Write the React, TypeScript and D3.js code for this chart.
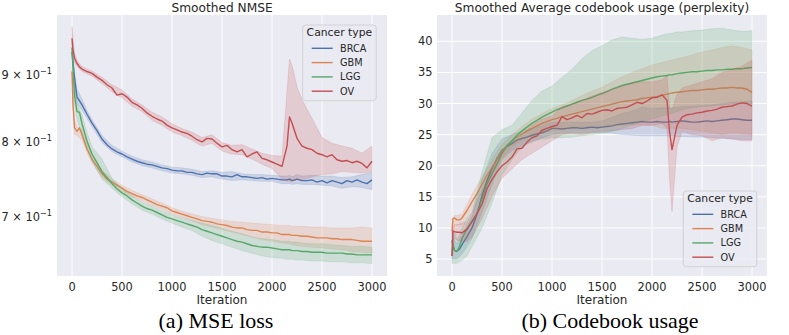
import * as d3 from 'd3'

// iteration grid for the mean lines and the (coarser) grid for the CI bands
const iters = [0, 10, 25, 50, 75, 100, 150, 200, 250, 300, 350, 400, 450, 500, 550, 600, 650, 700, 750, 800, 850, 900, 950, 1000, 1050, 1100, 1150, 1200, 1250, 1300, 1350, 1400, 1450, 1500, 1550, 1600, 1650, 1700, 1750, 1800, 1850, 1900, 1950, 2000, 2050, 2100, 2150, 2175, 2200, 2250, 2300, 2350, 2400, 2450, 2500, 2550, 2600, 2650, 2700, 2750, 2800, 2850, 2900, 2950, 3000]
const bandIters = [0, 25, 50, 100, 150, 200, 300, 400, 500, 600, 700, 800, 900, 1000, 1100, 1200, 1300, 1400, 1500, 1600, 1700, 1800, 1900, 2000, 2100, 2150, 2175, 2200, 2250, 2300, 2400, 2500, 2600, 2700, 2800, 2900, 3000]

const cancerTypes = ['BRCA', 'GBM', 'LGG', 'OV']
const colors = ['#4c72b0', '#dd8452', '#55a868', '#c44e52']
const xTicks = [0, 500, 1000, 1500, 2000, 2500, 3000]
const nmseTicks = [0.7, 0.8, 0.9]
const perplexityTicks = [5, 10, 15, 20, 25, 30, 35, 40]

// (a) smoothed NMSE
const nmseBRCA = [0.937, 0.920, 0.895, 0.865, 0.859, 0.853, 0.839, 0.826, 0.815, 0.803, 0.795, 0.789, 0.785, 0.782, 0.778, 0.775, 0.772, 0.770, 0.768, 0.767, 0.765, 0.763, 0.762, 0.760, 0.759, 0.759, 0.757, 0.757, 0.755, 0.754, 0.756, 0.755, 0.755, 0.752, 0.752, 0.751, 0.754, 0.751, 0.751, 0.750, 0.749, 0.750, 0.748, 0.749, 0.748, 0.747, 0.747, 0.748, 0.746, 0.748, 0.746, 0.746, 0.747, 0.744, 0.746, 0.743, 0.746, 0.744, 0.742, 0.746, 0.744, 0.747, 0.744, 0.742, 0.747]
const nmseGBM = [0.905, 0.853, 0.819, 0.814, 0.819, 0.809, 0.789, 0.775, 0.765, 0.755, 0.748, 0.744, 0.740, 0.736, 0.732, 0.729, 0.726, 0.724, 0.721, 0.718, 0.715, 0.713, 0.711, 0.707, 0.705, 0.703, 0.701, 0.699, 0.697, 0.695, 0.694, 0.693, 0.691, 0.690, 0.689, 0.687, 0.686, 0.686, 0.684, 0.683, 0.683, 0.681, 0.681, 0.680, 0.680, 0.678, 0.678, 0.678, 0.677, 0.677, 0.676, 0.676, 0.675, 0.674, 0.674, 0.674, 0.673, 0.673, 0.672, 0.672, 0.672, 0.671, 0.670, 0.670, 0.670]
const nmseLGG = [0.944, 0.913, 0.868, 0.843, 0.842, 0.825, 0.800, 0.782, 0.770, 0.758, 0.750, 0.742, 0.735, 0.730, 0.726, 0.721, 0.717, 0.713, 0.710, 0.708, 0.705, 0.702, 0.699, 0.697, 0.695, 0.693, 0.691, 0.689, 0.687, 0.684, 0.682, 0.680, 0.678, 0.676, 0.674, 0.672, 0.670, 0.669, 0.667, 0.665, 0.664, 0.663, 0.663, 0.662, 0.661, 0.660, 0.660, 0.660, 0.659, 0.659, 0.658, 0.658, 0.657, 0.657, 0.657, 0.656, 0.656, 0.656, 0.656, 0.655, 0.655, 0.654, 0.654, 0.654, 0.654]
const nmseOV = [0.960, 0.940, 0.927, 0.918, 0.9125, 0.909, 0.905, 0.902, 0.896, 0.891, 0.884, 0.879, 0.868, 0.870, 0.865, 0.857, 0.853, 0.848, 0.841, 0.836, 0.832, 0.829, 0.823, 0.819, 0.816, 0.813, 0.811, 0.807, 0.802, 0.799, 0.804, 0.803, 0.797, 0.792, 0.794, 0.788, 0.785, 0.788, 0.778, 0.782, 0.785, 0.776, 0.774, 0.771, 0.768, 0.765, 0.793, 0.835, 0.826, 0.804, 0.793, 0.790, 0.788, 0.783, 0.781, 0.778, 0.781, 0.774, 0.772, 0.773, 0.770, 0.772, 0.769, 0.763, 0.772]

const nmseBRCALo = [0.925, 0.880, 0.855, 0.845, 0.833, 0.821, 0.798, 0.785, 0.778, 0.771, 0.766, 0.763, 0.759, 0.756, 0.755, 0.753, 0.750, 0.751, 0.748, 0.746, 0.747, 0.746, 0.745, 0.745, 0.742, 0.742, 0.742, 0.741, 0.742, 0.741, 0.741, 0.740, 0.739, 0.736, 0.738, 0.737, 0.734]
const nmseBRCAHi = [0.945, 0.905, 0.877, 0.862, 0.845, 0.831, 0.808, 0.794, 0.786, 0.779, 0.774, 0.771, 0.767, 0.764, 0.763, 0.761, 0.758, 0.759, 0.757, 0.758, 0.755, 0.754, 0.754, 0.753, 0.752, 0.752, 0.753, 0.751, 0.754, 0.752, 0.753, 0.752, 0.752, 0.750, 0.751, 0.754, 0.757]
const nmseGBMLo = [0.895, 0.810, 0.808, 0.802, 0.783, 0.770, 0.750, 0.740, 0.732, 0.725, 0.720, 0.714, 0.709, 0.703, 0.699, 0.695, 0.690, 0.687, 0.684, 0.681, 0.678, 0.675, 0.672, 0.670, 0.668, 0.667, 0.667, 0.666, 0.665, 0.664, 0.663, 0.662, 0.661, 0.660, 0.658, 0.657, 0.656]
const nmseGBMHi = [0.912, 0.830, 0.821, 0.816, 0.795, 0.781, 0.760, 0.748, 0.740, 0.733, 0.728, 0.722, 0.717, 0.711, 0.707, 0.703, 0.700, 0.698, 0.696, 0.694, 0.693, 0.692, 0.691, 0.690, 0.689, 0.689, 0.689, 0.688, 0.688, 0.688, 0.687, 0.687, 0.686, 0.686, 0.686, 0.687, 0.686]
const nmseLGGLo = [0.925, 0.855, 0.830, 0.812, 0.790, 0.772, 0.748, 0.736, 0.725, 0.716, 0.708, 0.703, 0.697, 0.692, 0.687, 0.683, 0.676, 0.671, 0.667, 0.663, 0.659, 0.656, 0.653, 0.651, 0.650, 0.649, 0.649, 0.649, 0.648, 0.648, 0.647, 0.647, 0.646, 0.646, 0.645, 0.645, 0.644]
const nmseLGGHi = [0.955, 0.885, 0.855, 0.838, 0.812, 0.792, 0.775, 0.749, 0.735, 0.726, 0.718, 0.713, 0.707, 0.702, 0.698, 0.695, 0.692, 0.689, 0.686, 0.682, 0.679, 0.675, 0.673, 0.672, 0.670, 0.670, 0.670, 0.669, 0.669, 0.668, 0.667, 0.667, 0.666, 0.665, 0.664, 0.664, 0.663]
const nmseOVLo = [0.945, 0.920, 0.913, 0.905, 0.901, 0.898, 0.886, 0.873, 0.864, 0.851, 0.843, 0.830, 0.823, 0.813, 0.808, 0.801, 0.793, 0.797, 0.786, 0.782, 0.781, 0.775, 0.768, 0.762, 0.748, 0.745, 0.745, 0.745, 0.747, 0.747, 0.751, 0.754, 0.755, 0.758, 0.757, 0.756, 0.758]
const nmseOVHi = [0.980, 0.935, 0.923, 0.913, 0.909, 0.906, 0.896, 0.884, 0.876, 0.862, 0.853, 0.842, 0.835, 0.825, 0.818, 0.813, 0.805, 0.809, 0.798, 0.794, 0.795, 0.789, 0.783, 0.780, 0.779, 0.874, 0.925, 0.915, 0.881, 0.861, 0.833, 0.805, 0.797, 0.793, 0.790, 0.783, 0.793]

// (b) smoothed average codebook usage (perplexity)
const pplBRCA = [8.0, 7.0, 6.4, 6.3, 6.6, 7.3, 8.6, 10.0, 12.2, 15.2, 17.6, 19.5, 21.2, 22.5, 23.1, 23.6, 24.1, 24.4, 24.6, 24.9, 25.1, 25.3, 25.6, 26.0, 26.0, 25.9, 26.0, 26.1, 26.1, 26.0, 26.1, 26.2, 26.1, 26.2, 26.3, 26.4, 26.6, 26.7, 26.8, 26.9, 27.0, 27.1, 27.0, 27.0, 27.1, 27.0, 27.0, 27.1, 27.0, 27.1, 27.2, 27.1, 27.0, 27.0, 27.1, 27.2, 27.1, 27.2, 27.3, 27.4, 27.5, 27.5, 27.4, 27.3, 27.3]
const pplGBM = [9.5, 11.5, 11.6, 11.3, 11.3, 11.6, 12.8, 14.2, 15.5, 17.0, 18.5, 19.7, 21.0, 22.3, 23.3, 24.0, 24.6, 25.1, 25.6, 26.0, 26.4, 26.8, 27.1, 27.4, 27.6, 27.9, 28.1, 28.3, 28.5, 28.7, 28.9, 29.1, 29.3, 29.5, 29.7, 29.9, 30.1, 30.3, 30.4, 30.5, 30.6, 30.8, 30.9, 31.0, 31.1, 31.3, 31.5, 31.6, 31.7, 31.8, 31.9, 32.0, 32.1, 32.1, 32.2, 32.3, 32.3, 32.4, 32.5, 32.5, 32.6, 32.5, 32.5, 32.3, 31.8]
const pplLGG = [5.5, 7.5, 6.3, 6.2, 7.0, 8.3, 9.8, 11.0, 12.3, 14.7, 17.0, 18.7, 20.3, 22.0, 23.2, 24.0, 24.9, 25.6, 26.2, 26.8, 27.3, 27.8, 28.2, 28.6, 29.0, 29.3, 29.6, 29.9, 30.2, 30.5, 30.7, 31.0, 31.3, 31.6, 31.9, 32.3, 32.6, 32.9, 33.1, 33.3, 33.5, 33.7, 33.9, 34.1, 34.3, 34.4, 34.5, 34.6, 34.6, 34.8, 34.9, 35.0, 35.1, 35.1, 35.2, 35.3, 35.3, 35.4, 35.4, 35.5, 35.5, 35.6, 35.6, 35.7, 35.8]
const pplOV = [5.5, 9.5, 9.4, 9.3, 9.3, 9.2, 9.8, 11.0, 12.3, 13.8, 16.3, 17.8, 19.0, 20.0, 20.6, 21.4, 22.7, 22.8, 23.8, 24.5, 24.8, 25.7, 26.0, 26.3, 26.5, 27.9, 27.4, 27.7, 28.1, 27.7, 28.4, 28.3, 28.6, 28.9, 29.0, 28.8, 29.2, 29.3, 29.4, 29.8, 30.2, 30.0, 30.4, 30.9, 31.0, 31.4, 30.5, 25.5, 22.6, 26.5, 27.8, 28.2, 28.3, 28.5, 28.6, 28.8, 28.9, 29.1, 29.4, 29.5, 29.6, 29.9, 30.1, 30.0, 29.6]

const pplBRCALo = [5.0, 5.0, 5.0, 5.8, 7.0, 8.3, 12.5, 17.0, 21.0, 22.4, 23.2, 23.8, 24.5, 25.0, 25.2, 25.3, 25.3, 25.4, 25.3, 25.2, 25.0, 24.9, 24.8, 24.8, 24.8, 24.8, 24.8, 24.8, 24.7, 24.7, 24.6, 24.6, 24.5, 24.4, 24.3, 24.2, 24.2]
const pplBRCAHi = [9.5, 8.0, 7.5, 9.0, 10.3, 11.8, 17.8, 22.0, 24.3, 25.0, 25.6, 26.0, 26.4, 27.0, 27.0, 27.0, 27.0, 27.0, 27.2, 27.8, 28.4, 28.8, 29.4, 29.2, 29.3, 29.3, 29.3, 29.3, 29.4, 29.5, 29.6, 29.7, 29.8, 30.0, 30.2, 30.3, 30.4]
const pplGBMLo = [8.5, 10.5, 10.5, 10.5, 11.5, 13.0, 15.8, 18.5, 21.2, 23.0, 24.0, 24.8, 25.3, 25.6, 25.8, 26.0, 26.2, 26.3, 26.3, 26.4, 26.5, 26.6, 26.5, 26.5, 26.0, 26.0, 26.0, 26.0, 26.0, 26.0, 25.8, 25.5, 25.3, 25.0, 25.3, 25.2, 25.0]
const pplGBMHi = [11.5, 12.0, 12.0, 12.2, 13.8, 15.4, 18.2, 21.0, 23.5, 25.0, 26.3, 27.5, 28.4, 29.2, 29.8, 30.5, 31.3, 32.0, 32.6, 33.5, 34.3, 35.0, 35.6, 36.2, 36.6, 36.8, 36.9, 37.0, 37.2, 37.4, 37.8, 38.3, 38.6, 39.0, 39.3, 39.0, 38.6]
const pplLGGLo = [4.3, 4.3, 4.3, 4.8, 5.5, 7.0, 10.0, 14.0, 18.5, 21.0, 23.0, 24.0, 24.3, 24.5, 24.5, 24.6, 24.8, 25.0, 25.2, 25.5, 26.0, 26.5, 27.0, 27.5, 28.0, 28.2, 28.3, 28.5, 28.7, 29.0, 29.3, 29.5, 29.6, 29.8, 29.9, 30.0, 30.0]
const pplLGGHi = [7.0, 9.5, 8.0, 10.0, 11.5, 12.5, 19.0, 24.5, 25.8, 26.5, 28.5, 30.5, 32.0, 32.8, 34.2, 35.5, 37.2, 38.5, 39.3, 40.2, 40.7, 40.5, 40.3, 40.5, 41.0, 41.2, 41.2, 41.3, 41.5, 41.5, 41.7, 41.8, 42.0, 42.1, 41.8, 41.6, 41.7]
const pplOVLo = [5.5, 8.5, 8.0, 7.8, 7.8, 8.5, 11.5, 15.0, 18.0, 19.5, 21.0, 22.0, 23.0, 24.0, 25.0, 25.2, 25.0, 25.3, 25.5, 25.6, 25.8, 26.0, 26.5, 26.5, 26.8, 26.0, 18.0, 12.6, 23.0, 25.5, 25.0, 24.8, 24.0, 24.5, 24.3, 24.0, 24.0]
const pplOVHi = [9.5, 10.5, 10.5, 10.8, 11.0, 12.5, 16.0, 19.8, 22.2, 23.5, 25.0, 26.5, 27.5, 28.0, 29.5, 29.8, 30.5, 31.2, 31.8, 32.2, 32.8, 33.3, 33.5, 33.5, 33.8, 34.5, 29.5, 29.0, 31.5, 32.5, 33.0, 33.5, 34.0, 35.0, 35.5, 36.0, 37.0]

const FONT = 'DejaVu Sans, sans-serif'
const INK = '#262626'
const TOP = 15
const BOTTOM = 276

type Series = { mean: number[]; lo: number[]; hi: number[] }

function Legend({ x, y }: { x: number; y: number }) {
  return (
    <g transform={`translate(${x},${y})`} fontFamily={FONT} fill={INK}>
      <rect width={73.5} height={75.7} rx={3} fill="#eaeaf2" fillOpacity={0.8} stroke="#cccccc" strokeWidth={0.8} />
      <text x={36.7} y={11.4} fontSize={10.8} textAnchor="middle">Cancer type</text>
      {cancerTypes.map((name, i) => (
        <g key={name} transform={`translate(0,${23.3 + i * 14.3})`}>
          <line x1={9} x2={30} stroke={colors[i]} strokeWidth={1.4} />
          <text x={37.3} y={3.5} fontSize={9.7}>{name}</text>
        </g>
      ))}
    </g>
  )
}

function Panel({ id, left, title, series, y, yTicks, yLabel, hGrid, legend }: {
  id: string
  left: number
  title: string
  series: Series[]
  y: any
  yTicks: number[]
  yLabel: (t: number, ty: number) => any
  hGrid: boolean
  legend: { x: number; y: number }
}) {
  const right = left + 330
  const x = d3.scaleLinear().domain([-150, 3150]).range([left, right])
  const mid = (left + right) / 2
  const line = d3.line<number>().x((_, i) => x(iters[i])).y((d) => y(d))

  return (
    <g>
      <defs>
        <clipPath id={id}>
          <rect x={left} y={TOP} width={330} height={BOTTOM - TOP} />
        </clipPath>
      </defs>
      <rect x={left} y={TOP} width={330} height={BOTTOM - TOP} fill="#eaeaf2" />
      {hGrid && yTicks.map((t) => (
        <line key={t} x1={left} x2={right} y1={y(t)} y2={y(t)} stroke="#fff" strokeWidth={1} />
      ))}
      {xTicks.map((t) => (
        <line key={t} x1={x(t)} x2={x(t)} y1={TOP} y2={BOTTOM} stroke="#fff" strokeWidth={1} />
      ))}
      <g clipPath={`url(#${id})`}>
        {series.map((s, i) => {
          const area = d3.area<number>()
            .x((_, j) => x(bandIters[j]))
            .y0((d) => y(d))
            .y1((_, j) => y(s.hi[j]))
          return (
            <g key={i}>
              <path d={area(s.lo) || ''} fill={colors[i]} fillOpacity={0.2} stroke={colors[i]} strokeOpacity={0.2} strokeWidth={0.8} />
              <path d={line(s.mean) || ''} fill="none" stroke={colors[i]} strokeWidth={1.4} strokeLinejoin="round" />
            </g>
          )
        })}
      </g>
      <g fontFamily={FONT} fill={INK} fontSize={11.4}>
        {xTicks.map((t) => (
          <text key={t} x={x(t)} y={290.5} textAnchor="middle">{t}</text>
        ))}
        {yTicks.map((t) => yLabel(t, y(t)))}
        <text x={mid} y={303.5} fontSize={12} textAnchor="middle">Iteration</text>
        <text x={mid} y={11.5} fontSize={12.2} textAnchor="middle">{title}</text>
      </g>
      <Legend x={legend.x} y={legend.y} />
    </g>
  )
}

export default function App() {
  const yNmse = d3.scaleLog().domain([0.63, 1.0003]).range([BOTTOM, TOP])
  const yPpl = d3.scaleLinear().domain([2.27, 44.23]).range([BOTTOM, TOP])

  const nmseSeries: Series[] = [
    { mean: nmseBRCA, lo: nmseBRCALo, hi: nmseBRCAHi },
    { mean: nmseGBM, lo: nmseGBMLo, hi: nmseGBMHi },
    { mean: nmseLGG, lo: nmseLGGLo, hi: nmseLGGHi },
    { mean: nmseOV, lo: nmseOVLo, hi: nmseOVHi },
  ]
  const pplSeries: Series[] = [
    { mean: pplBRCA, lo: pplBRCALo, hi: pplBRCAHi },
    { mean: pplGBM, lo: pplGBMLo, hi: pplGBMHi },
    { mean: pplLGG, lo: pplLGGLo, hi: pplLGGHi },
    { mean: pplOV, lo: pplOVLo, hi: pplOVHi },
  ]

  return (
    <svg width={789} height={335} style={{ position: 'absolute', left: 0, top: 0, display: 'block' }}>
      <rect width={789} height={335} fill="#fff" />
      <Panel
        id="clip-nmse"
        left={57}
        title="Smoothed NMSE"
        series={nmseSeries}
        y={yNmse}
        yTicks={nmseTicks}
        hGrid={false}
        yLabel={(t, ty) => (
          <text key={t} x={52} y={ty + 4.5} textAnchor="end">
            {`${Math.round(t * 10)} × 10`}
            <tspan dy={-5} fontSize={8.2}>−1</tspan>
          </text>
        )}
        legend={{ x: 302.7, y: 25 }}
      />
      <Panel
        id="clip-ppl"
        left={437}
        title="Smoothed Average codebook usage (perplexity)"
        series={pplSeries}
        y={yPpl}
        yTicks={perplexityTicks}
        hGrid={true}
        yLabel={(t, ty) => (
          <text key={t} x={432.5} y={ty + 4} textAnchor="end">{t}</text>
        )}
        legend={{ x: 683.3, y: 191 }}
      />
      <g fontFamily="Liberation Serif, Times New Roman, serif" fontSize={22} fill="#000" textAnchor="middle">
        <text x={216} y={328}>(a) MSE loss</text>
        <text x={610} y={328}>(b) Codebook usage</text>
      </g>
    </svg>
  )
}
